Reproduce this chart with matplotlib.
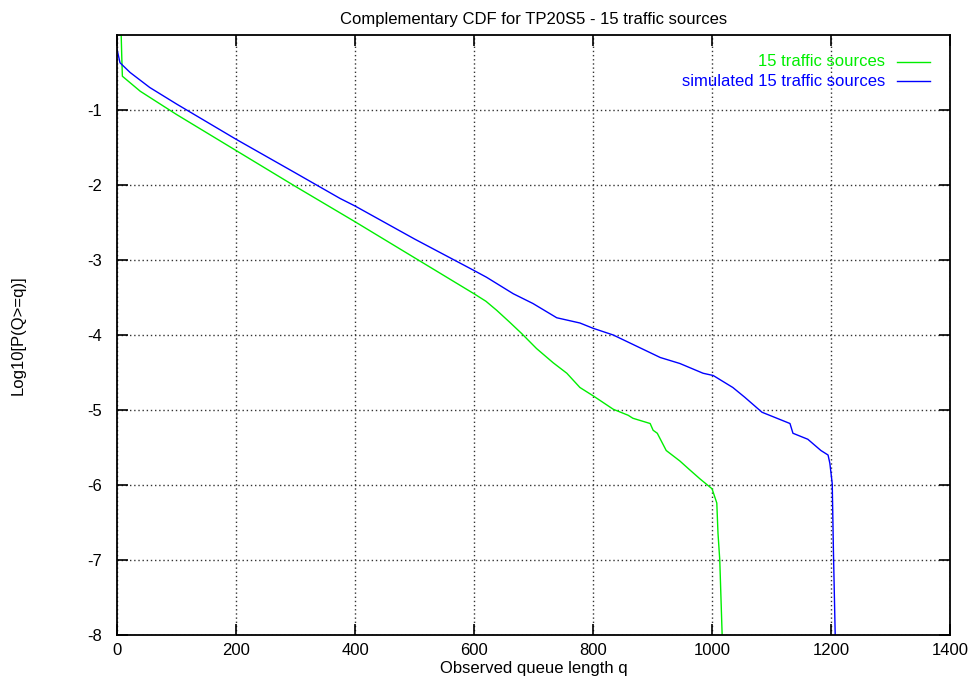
import matplotlib
matplotlib.use("Agg")
import matplotlib.pyplot as plt

plt.rcParams['font.family'] = ['Liberation Sans', 'DejaVu Sans']
plt.rcParams['axes.unicode_minus'] = False

# measured (green) curve: queue length q, log10 P(Q>=q)
q_meas = [0, 7, 8, 9, 39, 100, 200, 300, 400, 500, 600, 620, 638, 660, 680, 705, 733,
          756, 778, 800, 834, 859, 867, 896, 901, 908, 923, 946, 960, 980, 1000,
          1008, 1010, 1013, 1017]
p_meas = [0.0, 0.0, -0.3, -0.55, -0.75, -1.06, -1.54, -2.02, -2.49, -2.97, -3.45,
          -3.55, -3.67, -3.83, -3.98, -4.18, -4.37, -4.51, -4.70, -4.81, -4.99, -5.07,
          -5.11, -5.18, -5.27, -5.31, -5.54, -5.68, -5.78, -5.92, -6.05, -6.24,
          -6.64, -7.0, -8.0]

# simulated (blue) curve
q_sim = [0, 5, 22, 55, 100, 200, 300, 375, 400, 500, 600, 621, 666, 699, 739, 778,
         800, 834, 913, 946, 985, 1002, 1035, 1055, 1084, 1131, 1136, 1161, 1183,
         1195, 1198, 1202, 1204, 1207]
p_sim = [-0.19, -0.37, -0.5, -0.70, -0.92, -1.39, -1.84, -2.18, -2.28, -2.72, -3.14,
         -3.23, -3.45, -3.58, -3.77, -3.84, -3.91, -4.0, -4.3, -4.38, -4.51, -4.54,
         -4.7, -4.83, -5.03, -5.18, -5.31, -5.39, -5.54, -5.6, -5.71, -5.98, -6.87,
         -8.0]

labels = ["15 traffic sources", "simulated 15 traffic sources"]
colors = ["#00ee00", "#0000ff"]

fig = plt.figure(figsize=(9.76, 6.86), dpi=100)
ax = fig.add_axes([0.1199, 0.0743, 0.8535, 0.8747])

ax.plot(q_meas, p_meas, color=colors[0], lw=1)
ax.plot(q_sim, p_sim, color=colors[1], lw=1)

ax.set_xlim(0, 1400)
ax.set_ylim(-8, 0)
ax.set_xticks(range(0, 1401, 200))
ax.set_yticks(range(-8, 0))
ax.grid(True, color='#333333', linestyle=(0, (1, 2)), linewidth=1)
ax.tick_params(direction='in', length=8, width=1.2, top=True, right=True,
               labelsize=12)
ax.tick_params(axis='x', pad=6)
ax.tick_params(axis='y', pad=11)
for s in ax.spines.values():
    s.set_linewidth(1.3)

ax.set_title("Complementary CDF for TP20S5 - 15 traffic sources", fontsize=12, pad=8)
ax.set_xlabel("Observed queue length q", fontsize=12, labelpad=2)
ax.set_ylabel("Log10[P(Q>=q)]", fontsize=12, labelpad=44)

# gnuplot-style key: right-justified text, sample line on the right
for i, (lab, c) in enumerate(zip(labels, colors)):
    y = 0.955 - i * 0.032
    ax.text(0.922, y, lab, color=c, fontsize=12, ha='right', va='center',
            transform=ax.transAxes)
    ax.plot([0.936, 0.976], [y, y], color=c, lw=1, transform=ax.transAxes)

fig.savefig("out.png", dpi=100)
